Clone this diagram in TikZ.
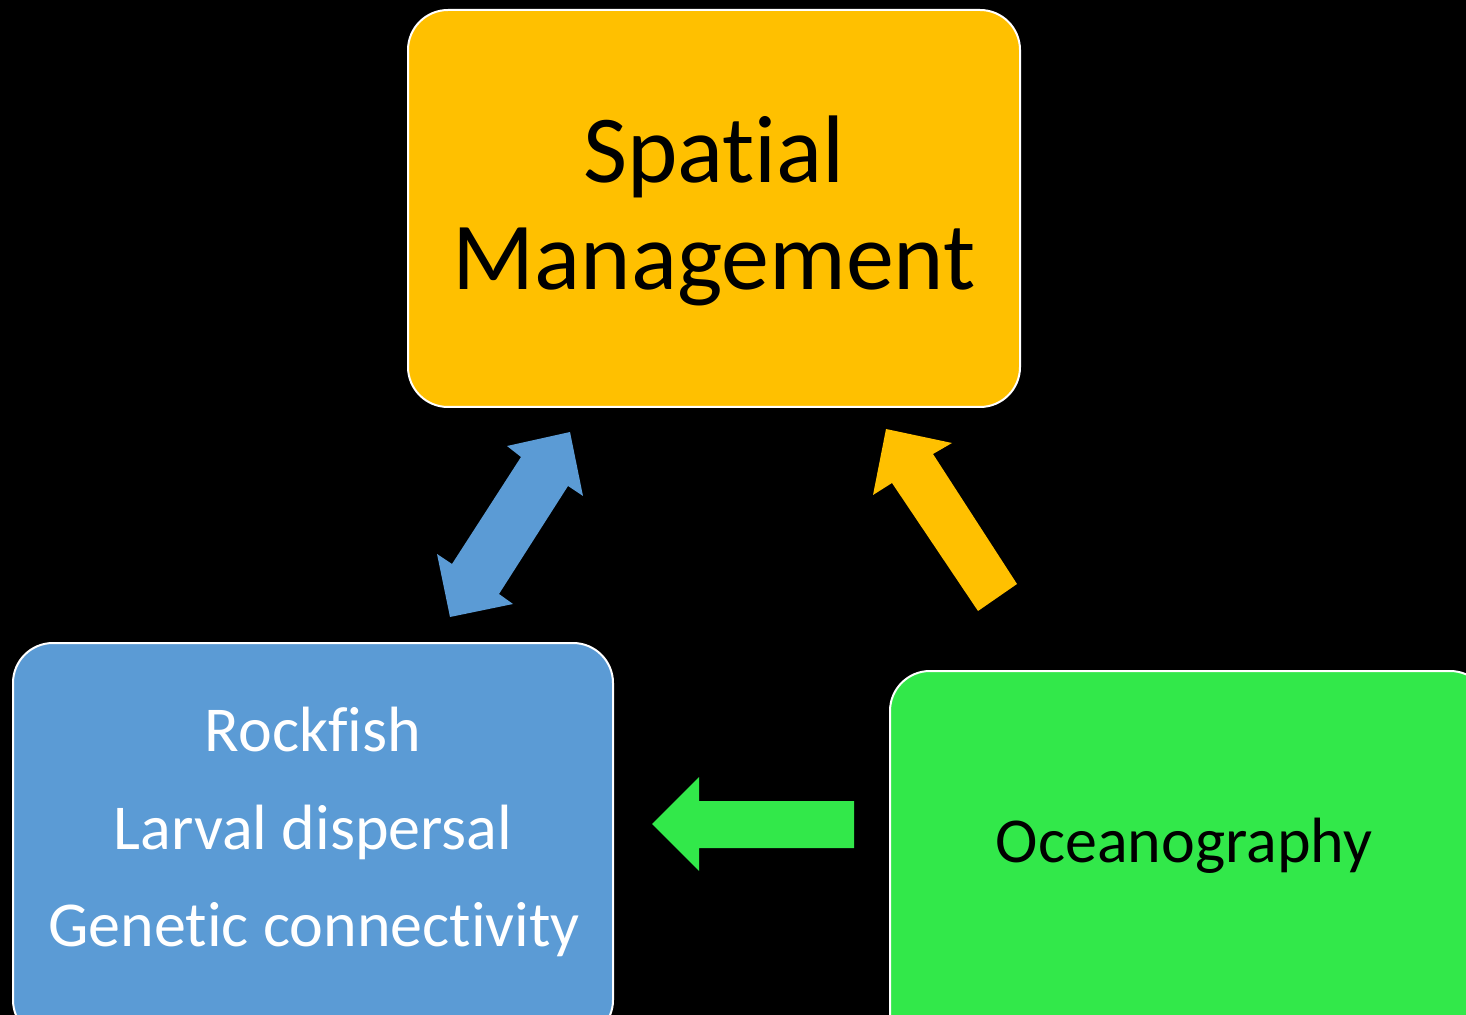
\documentclass[tikz,border=0pt]{standalone}
\usepackage{fontspec}
\setmainfont{Carlito}[Ligatures={NoCommon}]
\definecolor{boxyellow}{RGB}{255,192,0}
\definecolor{boxblue}{RGB}{91,155,213}
\definecolor{boxgreen}{RGB}{50,232,74}
\begin{document}
\begin{tikzpicture}[x=0.5pt,y=-0.5pt,
  card/.style={draw=white,line width=1pt,rounded corners=20pt,inner sep=0pt,
    minimum width=300pt,minimum height=198.5pt},
  bigtxt/.style={font=\fontsize{48}{56}\selectfont,text=black,anchor=base,inner sep=0pt},
  midtxt/.style={font=\fontsize{32}{38}\selectfont,anchor=base,inner sep=0pt}]
\fill[black] (0,0) rectangle (1466,1015);
\useasboundingbox (0,0) rectangle (1466,1015);
% boxes
\node[card,fill=boxyellow,minimum width=306pt] (spatial) at (714,208.5) {};
\node[card,fill=boxblue] (rock) at (313,841.5) {};
\node[card,fill=boxgreen] (ocean) at (1190,869.5) {};
% texts
\node[bigtxt] (t1) at (714,183) {Spatial};
\node[bigtxt] (t2) at (714,290) {Management};
\node[midtxt,text=white] (r1) at (313,751) {Rockfish};
\node[midtxt,text=white] (r2) at (313,849) {Larval dispersal};
\node[midtxt,text=white] (r3) at (314,946) {Genetic connectivity};
\node[midtxt,text=black] (o1) at (1184,862) {Oceanography};
% block arrows
\fill[boxblue] (570,432) -- (583,496) -- (568,486) -- (499,594) -- (513,604)
  -- (450,617) -- (437,554) -- (452,564) -- (521,457) -- (507,446) -- cycle;
\fill[boxyellow] (886,429) -- (952,443) -- (933,454) -- (1017,584) -- (978,611)
  -- (892,483) -- (873,495) -- cycle;
\fill[boxgreen] (652,824) -- (699,777) -- (699,801) -- (854,801) -- (854,848)
  -- (699,848) -- (699,871) -- cycle;
\end{tikzpicture}
\end{document}
